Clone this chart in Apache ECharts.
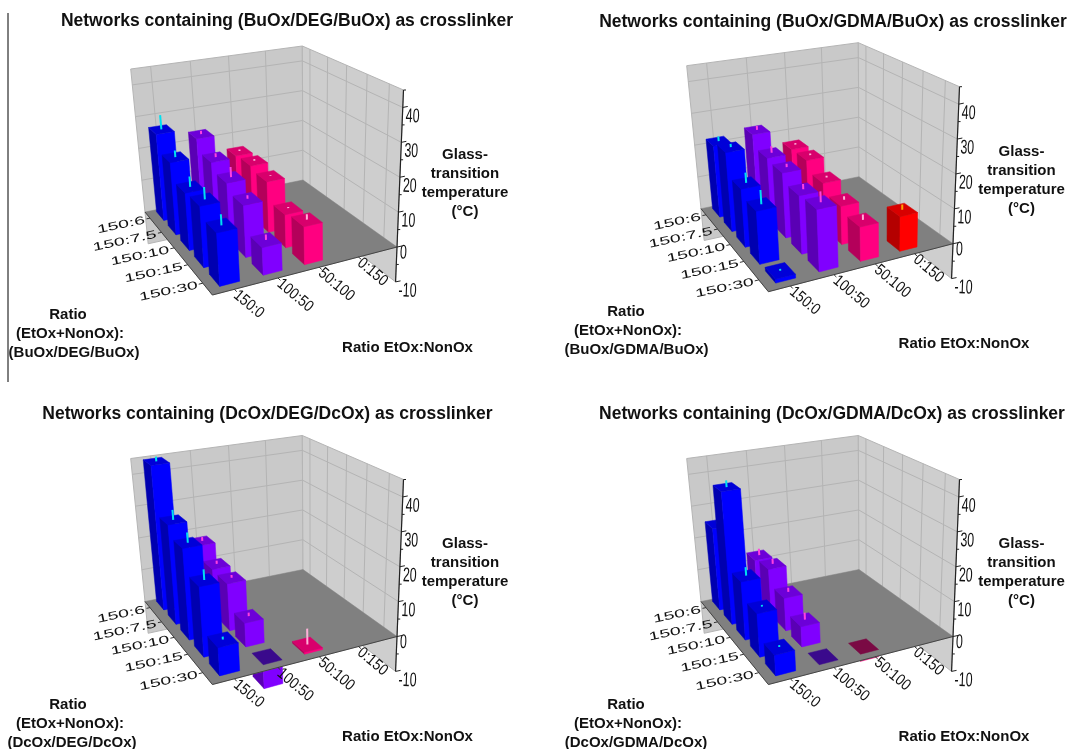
<!DOCTYPE html>
<html><head><meta charset="utf-8">
<style>html,body{margin:0;padding:0;background:#fff}#c{width:1068px;height:749px}</style>
<script src="https://cdn.jsdelivr.net/npm/echarts@6/dist/echarts.min.js"></script>
</head><body><div id="c"></div>
<script>
// ---- categories and tick labels
const rowLabels = ['150:6','150:7.5','150:10','150:15','150:30'];   // back to front
const colLabels = ['150:0','100:50','50:100','0:150'];              // front to right
const zTicks = [-10,0,10,20,30,40];
const panelTitles = ['BuOx/DEG/BuOx','BuOx/GDMA/BuOx','DcOx/DEG/DcOx','DcOx/GDMA/DcOx'];

// ---- glass-transition temperature, one array per EtOx:NonOx ratio, in rowLabels order
const buDeg_150_0  = [26.5,21.5,16.5,17,14.2];
const buDeg_100_50 = [23,19.3,17,14.7,7.5];
const buDeg_50_100 = [15.5,16,15,9.5,10.5];
const buDeg_0_150  = [null,null,null,null,null];
const buDegErr_150_0  = [4.5,2,3,3.5,3];
const buDegErr_100_50 = [1,1.2,3,1,1.5];
const buDegErr_50_100 = [.5,.5,0,.3,1.5];
const buDegErr_0_150  = [0,0,0,0,0];

const buGdma_150_0  = [21.8,23.5,16.7,14.7,1];
const buGdma_100_50 = [23.3,19.6,19,16.5,17];
const buGdma_50_100 = [16.5,16.7,13.6,11,9.5];
const buGdma_0_150  = [null,null,null,null,9.8];
const buGdmaErr_150_0  = [1.5,1,3,4,.5];
const buGdmaErr_100_50 = [1.2,2,1,1.5,3];
const buGdmaErr_50_100 = [.5,.5,.5,1,1.5];
const buGdmaErr_0_150  = [0,0,0,0,1.5];

const dcDeg_150_0  = [44.5,29.6,26.3,19.5,7.5];
const dcDeg_100_50 = [17.5,14,13.7,6.7,-6.5];
const dcDeg_50_100 = [null,null,null,null,0.5];
const dcDeg_0_150  = [null,null,null,null,null];
const dcDegErr_150_0  = [1.5,3,3,3,.8];
const dcDegErr_100_50 = [1.2,1,.8,1,0];
const dcDegErr_50_100 = [0,0,0,0,4.5];
const dcDegErr_0_150  = [0,0,0,0,0];

const dcGdma_150_0  = [25,39.5,16.7,12,5.5];
const dcGdma_100_50 = [13,14,9.5,5.7,-0.3];
const dcGdma_50_100 = [null,null,null,null,-2];
const dcGdma_0_150  = [null,null,null,null,null];
const dcGdmaErr_150_0  = [3,2,2.5,.5,.5];
const dcGdmaErr_100_50 = [2,1.5,1.2,2,0];
const dcGdmaErr_50_100 = [0,0,0,0,0];
const dcGdmaErr_0_150  = [0,0,0,0,0];

const panelValues = [
  [buDeg_150_0,buDeg_100_50,buDeg_50_100,buDeg_0_150],
  [buGdma_150_0,buGdma_100_50,buGdma_50_100,buGdma_0_150],
  [dcDeg_150_0,dcDeg_100_50,dcDeg_50_100,dcDeg_0_150],
  [dcGdma_150_0,dcGdma_100_50,dcGdma_50_100,dcGdma_0_150]];
const panelErrors = [
  [buDegErr_150_0,buDegErr_100_50,buDegErr_50_100,buDegErr_0_150],
  [buGdmaErr_150_0,buGdmaErr_100_50,buGdmaErr_50_100,buGdmaErr_0_150],
  [dcDegErr_150_0,dcDegErr_100_50,dcDegErr_50_100,dcDegErr_0_150],
  [dcGdmaErr_150_0,dcGdmaErr_100_50,dcGdmaErr_50_100,dcGdmaErr_0_150]];

// ---- style: per column colours
const faceLight = ['#0000ff','#8000ff','#ff0080','#ff0000'];
const faceDark  = ['#0000b0','#5a00b4','#b4005a','#b40000'];
const faceTop   = ['#0000d8','#6c00d8','#d8006c','#d80000'];
const capNeg    = ['#000070','#3a0a8c','#7a0a44','#700000'];
const errColor  = ['#00e0f0','#ff40e0','#ffb0d8','#ffa000'];
const FONT = '"Liberation Sans", Arial, sans-serif';

// ---- the 3D view: corners of the floor (z=0) and of the ceiling (z=ZMAX) in panel 1
const ZMAX = 45, ZMIN = -10;
const floorQuad = [[212.4,295],[397,247],[303,180],[145,212]]; // (u,v)=(0,0),(1,0),(1,1),(0,1)
const topQuad   = [[202,123],[403.5,90],[302.3,46],[130.7,69]];
const panelShift = [[0,0],[556,-3.3],[0,389.5],[556,389.5]];
const BAR_HU = .05, BAR_HV = .063;

function homography(q){
  const [x0,y0]=q[0],[x1,y1]=q[1],[x2,y2]=q[2],[x3,y3]=q[3];
  const dx1=x1-x2,dx2=x3-x2,sx=x0-x1+x2-x3,dy1=y1-y2,dy2=y3-y2,sy=y0-y1+y2-y3;
  const den=dx1*dy2-dx2*dy1;
  const g=(sx*dy2-dx2*sy)/den,h=(dx1*sy-sx*dy1)/den;
  const a=x1-x0+g*x1,b=x3-x0+h*x3,d=y1-y0+g*y1,e=y3-y0+h*y3;
  return (u,v)=>{const w=g*u+h*v+1;return [(a*u+b*v+x0)/w,(d*u+e*v+y0)/w];};
}
const hFloor=homography(floorQuad), hTop=homography(topQuad);
function project(p,u,v,z){
  const f=hFloor(u,v),t=hTop(u,v),k=z/ZMAX,s=panelShift[p];
  return [f[0]+(t[0]-f[0])*k+s[0], f[1]+(t[1]-f[1])*k+s[1]];
}
const uOf=c=>.108+.221*c;
const vOf=r=>.91-.198*r;

function poly(api,pts,fill,stroke,lw){
  return {type:'polygon',shape:{points:pts.map(q=>api.coord(q))},
    style:{fill:fill,stroke:stroke||fill,lineWidth:lw===undefined?.5:lw}};
}
function line(api,a,b,color,w){
  const A=api.coord(a),B=api.coord(b);
  return {type:'line',shape:{x1:A[0],y1:A[1],x2:B[0],y2:B[1]},style:{stroke:color,lineWidth:w,fill:null}};
}
function label(api,pos,text,size,rot,sx,sy,align,vAlign,weight){
  const c=api.coord(pos);
  return {type:'text',x:c[0],y:c[1],rotation:rot*Math.PI/180,scaleX:sx,scaleY:sy,
    style:{text:text,fontSize:size,fontFamily:FONT,fontWeight:weight||'normal',fill:'#111',align:align,verticalAlign:vAlign}};
}

function renderWalls(p){return (params,api)=>{
  const W='#c9c9c9',G='#b4b4b4',P=(u,v,z)=>project(p,u,v,z),ch=[];
  ch.push(poly(api,[P(0,1,ZMIN),P(1,1,ZMIN),P(1,1,ZMAX),P(0,1,ZMAX)],W,'#b5b5b5',1));
  ch.push(poly(api,[P(1,1,ZMIN),P(1,0,ZMIN),P(1,0,ZMAX),P(1,1,ZMAX)],'#cecece','#b5b5b5',1));
  for(const z of zTicks){ if(z<=0) continue;
    ch.push(line(api,P(0,1,z),P(1,1,z),G,1));
    ch.push(line(api,P(1,1,z),P(1,0,z),G,1));
  }
  colLabels.forEach((_,c)=>ch.push(line(api,P(uOf(c),1,0),P(uOf(c),1,ZMAX),G,1)));
  rowLabels.forEach((_,r)=>ch.push(line(api,P(1,vOf(r),0),P(1,vOf(r),ZMAX),G,1)));
  return {type:'group',children:ch};
};}
function barFaces(api,p,c,r,zLo,zHi,withTop){
  const u=uOf(c),v=vOf(r),u0=u-BAR_HU,u1=u+BAR_HU,v0=v-BAR_HV,v1=v+BAR_HV,P=(a,b,z)=>project(p,a,b,z),ch=[];
  ch.push(poly(api,[P(u0,v0,zLo),P(u0,v1,zLo),P(u0,v1,zHi),P(u0,v0,zHi)],faceDark[c]));
  ch.push(poly(api,[P(u0,v0,zLo),P(u1,v0,zLo),P(u1,v0,zHi),P(u0,v0,zHi)],faceLight[c]));
  if(withTop) ch.push(poly(api,[P(u0,v0,zHi),P(u1,v0,zHi),P(u1,v1,zHi),P(u0,v1,zHi)],faceTop[c]));
  return ch;
}
function renderNegative(p){return (params,api)=>{
  const c=api.value(0),r=api.value(1),val=api.value(2);
  return {type:'group',children:barFaces(api,p,c,r,val,0,false)};
};}
function renderFloor(p){return (params,api)=>{
  const P=(u,v)=>project(p,u,v,0);
  return {type:'group',children:[
    poly(api,[P(0,0),P(1,0),P(1,1),P(0,1)],'#808080'),
    line(api,P(0,0),P(0,1),'#444',1),
    line(api,P(0,0),P(1,0),'#444',1)]};
};}
function renderBar(p){return (params,api)=>{
  const c=api.value(0),r=api.value(1),val=api.value(2),err=api.value(3);
  const u=uOf(c),v=vOf(r);
  if(val<0){
    const P=(a,b)=>project(p,a,b,0);
    return poly(api,[P(u-BAR_HU,v-BAR_HV),P(u+BAR_HU,v-BAR_HV),P(u+BAR_HU,v+BAR_HV),P(u-BAR_HU,v+BAR_HV)],capNeg[c]);
  }
  const ch=barFaces(api,p,c,r,0,val,true);
  if(err>0) ch.push(line(api,project(p,u,v,val),project(p,u,v,val+err),errColor[c],2));
  else ch.push(line(api,project(p,u,v,val),project(p,u,v,val+.25),errColor[c],2));
  return {type:'group',children:ch};
};}
function renderAxes(p){return (params,api)=>{
  const ch=[],P=(u,v,z)=>project(p,u,v,z);
  ch.push(line(api,P(1,0,ZMIN),P(1,0,ZMAX),'#222',1.2));
  for(let z=ZMIN;z<=ZMAX;z+=5){
    const a=P(1,0,z),len=z%10===0?5:2.5;
    ch.push(line(api,a,[a[0]+len,a[1]+(z%10===0?-1:0)],'#222',1));
  }
  zTicks.forEach(z=>{
    const a=P(1,0,z);
    ch.push(label(api,[a[0]+3,a[1]+(z===0?6:9)],String(z),20,-2,.62,1,'left','middle'));
  });
  rowLabels.forEach((t,r)=>{
    const v=vOf(r),a=P(0,v,0),b=P(-.02,v,0);
    ch.push(line(api,a,b,'#333',1));
    ch.push(label(api,[a[0]-5,a[1]+2],t,19.5,12,1,.58,'right','middle'));
  });
  colLabels.forEach((t,c)=>{
    const u=uOf(c),a=P(u,0,0),b=P(u,-.025,0);
    ch.push(line(api,a,b,'#333',1));
    ch.push(label(api,[a[0]+1,a[1]+4],t,16,-40,.86,1,'left','middle'));
  });
  return {type:'group',children:ch};
};}

const series=[];
panelTitles.forEach((_,p)=>{
  const pos=[],neg=[];
  panelValues[p].forEach((vals,c)=>vals.forEach((val,r)=>{
    if(val===null) return;
    pos.push([c,r,val,panelErrors[p][c][r]]);
    if(val<0) neg.push([c,r,val,0]);
  }));
  pos.sort((a,b)=>b[0]-a[0]||a[1]-b[1]);   // far bars first
  const common={type:'custom',coordinateSystem:'cartesian2d',clip:false,silent:true,animation:false,
                encode:{x:0,y:1},progressive:0};
  series.push({...common,name:'walls'+p,z:2,data:[[0,0]],renderItem:renderWalls(p)});
  series.push({...common,name:'below floor'+p,z:3,data:neg,renderItem:renderNegative(p)});
  series.push({...common,name:'floor'+p,z:4,data:[[0,0]],renderItem:renderFloor(p)});
  series.push({...common,name:'axes'+p,z:5,data:[[0,0]],renderItem:renderAxes(p)});
  series.push({...common,name:panelTitles[p],z:6,data:pos,renderItem:renderBar(p)});
});

// ---- text
const titleCenters=[[287,21],[833,22],[267.5,414],[832,414]];
const glassPos=[[465,155],[1021.5,152],[465,544],[1021.5,544]];
const ratioPos=[[68,315],[626,312],[68,705],[626,705]];
const ratioLast=[74,636.5,72,636];
const etoxPos=[[407.5,348],[964,344],[407.5,737],[964,737]];
const glassLines=['Glass-','transition','temperature','(°C)'];
const graphic=[{type:'line',shape:{x1:8,y1:13,x2:8,y2:382},style:{stroke:'#000',lineWidth:1},z:10}];
function textEl(t,x,y,size){
  return {type:'text',x:x,y:y,z:10,style:{text:t,fontSize:size,fontWeight:'bold',fontFamily:FONT,fill:'#111',align:'center',verticalAlign:'middle'}};
}
panelTitles.forEach((name,p)=>{
  glassLines.forEach((t,i)=>graphic.push(textEl(t,glassPos[p][0],glassPos[p][1]+i*19,15)));
  graphic.push(textEl('Ratio',ratioPos[p][0],ratioPos[p][1],15));
  graphic.push(textEl('(EtOx+NonOx):',ratioPos[p][0]+2,ratioPos[p][1]+19,15));
  graphic.push(textEl('('+name+')',ratioLast[p],ratioPos[p][1]+38,15));
  graphic.push(textEl('Ratio EtOx:NonOx',etoxPos[p][0],etoxPos[p][1],15));
});

const chart=echarts.init(document.getElementById('c'),null,{renderer:'canvas',width:1068,height:749});
chart.setOption({
  animation:false,backgroundColor:'#fff',
  title:panelTitles.map((name,p)=>({text:'Networks containing ('+name+') as crosslinker',padding:0,
    left:titleCenters[p][0],top:titleCenters[p][1],textAlign:'center',textVerticalAlign:'middle',
    textStyle:{fontSize:17.5,fontWeight:'bold',fontFamily:FONT,color:'#111'}})),
  grid:{left:0,right:0,top:0,bottom:0},
  xAxis:{type:'value',min:0,max:1068,show:false},
  yAxis:{type:'value',min:0,max:749,inverse:true,show:false},
  series:series,graphic:graphic
});
</script></body></html>
